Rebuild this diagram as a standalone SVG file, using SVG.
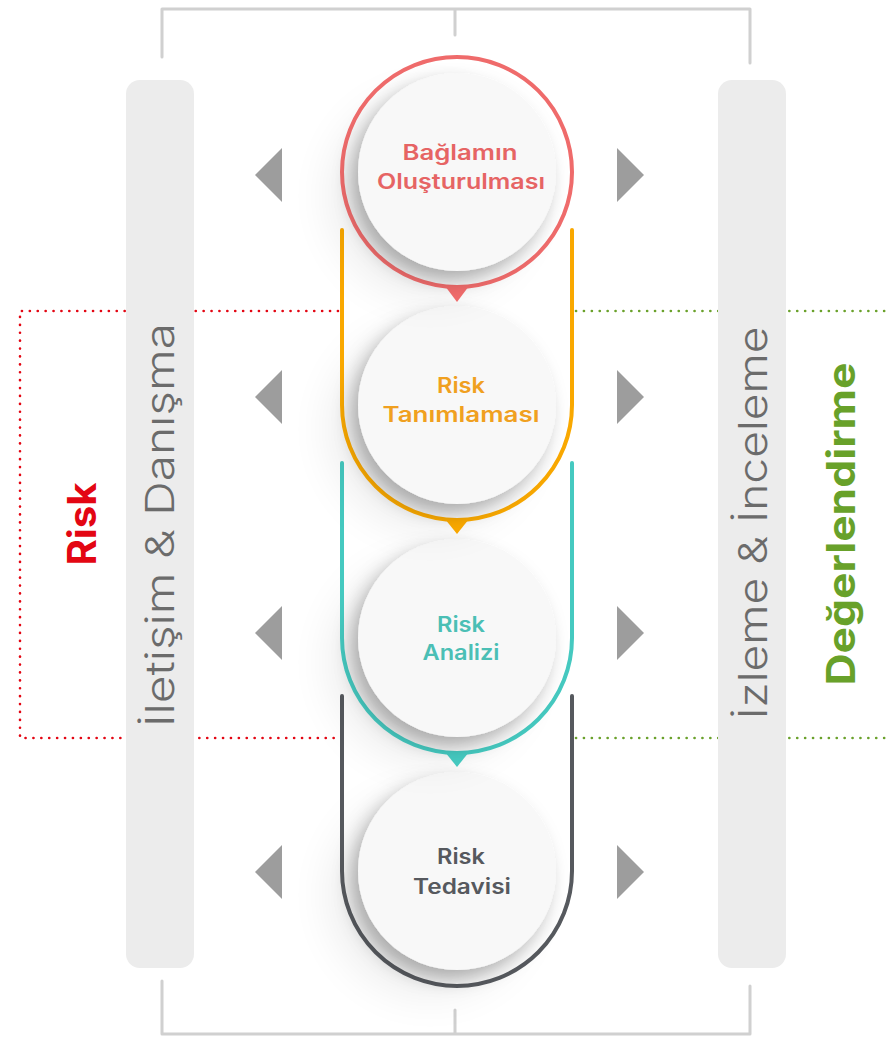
<svg xmlns="http://www.w3.org/2000/svg" width="891" height="1039" viewBox="0 0 891 1039">
<defs>
<style>
.bracket{fill:none;stroke:#d0d0d0;stroke-width:3;stroke-linecap:round;stroke-linejoin:round}
.bar{fill:#ececec}
.dotred{fill:none;stroke:#e30613;stroke-width:2.6;stroke-dasharray:0.1 7.8;stroke-linecap:round}
.dotgreen{fill:none;stroke:#6aa12b;stroke-width:2.6;stroke-dasharray:0.1 7.8;stroke-linecap:round}
.side{font-family:Inter,"Open Sans","Liberation Sans",sans-serif;font-weight:300;font-size:40px;fill:#6b6b6b}
.sidebold{font-family:Inter,"Open Sans","Liberation Sans",sans-serif;font-weight:700;font-size:39px}
.ring{fill:none;stroke-width:4;stroke-linecap:round}
.inner{fill:#f8f8f8}
.lbl{font-family:Inter,"Open Sans","Liberation Sans",sans-serif;font-weight:600;font-size:21px;text-anchor:middle}
.tri{fill:#9d9d9d}
</style>
<filter id="sh" x="-50%" y="-50%" width="200%" height="200%">
<feDropShadow dx="-7" dy="9" stdDeviation="9" flood-color="#000" flood-opacity="0.28"/>
</filter>
<filter id="bigsh" x="-60%" y="-60%" width="220%" height="220%">
<feGaussianBlur stdDeviation="22"/>
</filter>
</defs>
<rect width="891" height="1039" fill="#ffffff"/>

<g id="connectors">
<path class="bracket" d="M162 57 V9 H750 V63 M455 9 V35"/>
<path class="bracket" d="M162 981 V1034 H750 V986 M455 1034 V1010"/>
<path class="dotred" d="M338 311 H20 V738 H338"/>
<path class="dotgreen" d="M576 311 H891 M576 738 H891"/>
</g>

<g id="left-bar">
<rect class="bar" x="126" y="80" width="68" height="888" rx="14"/>
<text class="side" transform="translate(174,525) rotate(-90)" text-anchor="middle" textLength="404" lengthAdjust="spacingAndGlyphs">İletişim &amp; Danışma</text>
</g>
<g id="right-bar">
<rect class="bar" x="718" y="80" width="68" height="888" rx="14"/>
<text class="side" transform="translate(767,523) rotate(-90)" text-anchor="middle" textLength="393" lengthAdjust="spacingAndGlyphs">İzleme &amp; İnceleme</text>
</g>
<g id="label-risk">
<text class="sidebold" fill="#e30613" transform="translate(96,524) rotate(-90)" text-anchor="middle" textLength="83" lengthAdjust="spacingAndGlyphs">Risk</text>
</g>
<g id="label-degerlendirme">
<text class="sidebold" fill="#68a12a" transform="translate(855,524) rotate(-90)" text-anchor="middle" textLength="323" lengthAdjust="spacingAndGlyphs">Değerlendirme</text>
</g>

<g id="arrows">
<polygon class="tri" points="255,175 282,148 282,202"/>
<polygon class="tri" points="255,397 282,370 282,424"/>
<polygon class="tri" points="255,633 282,606 282,660"/>
<polygon class="tri" points="255,872 282,845 282,899"/>
<polygon class="tri" points="644,175 617,148 617,202"/>
<polygon class="tri" points="644,397 617,370 617,424"/>
<polygon class="tri" points="644,633 617,606 617,660"/>
<polygon class="tri" points="644,872 617,845 617,899"/>
</g>

<g id="node-tedavisi">
<ellipse cx="430" cy="895" rx="100" ry="100" fill="#000" opacity="0.07" filter="url(#bigsh)"/>
<path class="ring" stroke="#56595e" d="M342 696 V871 A115 115 0 0 0 572 871 V696"/>
<circle class="inner" cx="457" cy="871" r="99" filter="url(#sh)"/>
<text class="lbl" fill="#56595e" x="461" y="864" textLength="48" lengthAdjust="spacingAndGlyphs">Risk</text>
<text class="lbl" fill="#56595e" x="462" y="894" textLength="98" lengthAdjust="spacingAndGlyphs">Tedavisi</text>
</g>

<g id="node-analizi">
<ellipse cx="430" cy="662" rx="100" ry="100" fill="#000" opacity="0.07" filter="url(#bigsh)"/>
<path class="ring" stroke="#45c9c0" d="M342 463 V638 A115 115 0 0 0 572 638 V463"/>
<polygon fill="#45c9c0" points="445,752 469,752 457,767"/>
<circle class="inner" cx="457" cy="638" r="99" filter="url(#sh)"/>
<text class="lbl" fill="#4bbfb5" x="461" y="632" textLength="48" lengthAdjust="spacingAndGlyphs">Risk</text>
<text class="lbl" fill="#4bbfb5" x="461" y="660" textLength="77" lengthAdjust="spacingAndGlyphs">Analizi</text>
</g>

<g id="node-tanimlamasi">
<ellipse cx="430" cy="429" rx="100" ry="100" fill="#000" opacity="0.07" filter="url(#bigsh)"/>
<path class="ring" stroke="#f9a800" d="M342 230 V405 A115 115 0 0 0 572 405 V230"/>
<polygon fill="#f9a800" points="445,519 469,519 457,534"/>
<circle class="inner" cx="457" cy="405" r="99" filter="url(#sh)"/>
<text class="lbl" fill="#f0a020" x="461" y="393" textLength="48" lengthAdjust="spacingAndGlyphs">Risk</text>
<text class="lbl" fill="#f0a020" x="461" y="422" textLength="157" lengthAdjust="spacingAndGlyphs">Tanımlaması</text>
</g>

<g id="node-baglamin">
<ellipse cx="430" cy="196" rx="100" ry="100" fill="#000" opacity="0.07" filter="url(#bigsh)"/>
<circle class="ring" stroke="#ef6b6b" cx="457" cy="172" r="115"/>
<polygon fill="#ef6b6b" points="445,286 469,286 457,302"/>
<circle class="inner" cx="457" cy="172" r="99" filter="url(#sh)"/>
<text class="lbl" fill="#e66464" x="460" y="160" textLength="115" lengthAdjust="spacingAndGlyphs">Bağlamın</text>
<text class="lbl" fill="#e66464" x="461" y="189" textLength="168" lengthAdjust="spacingAndGlyphs">Oluşturulması</text>
</g>
</svg>
